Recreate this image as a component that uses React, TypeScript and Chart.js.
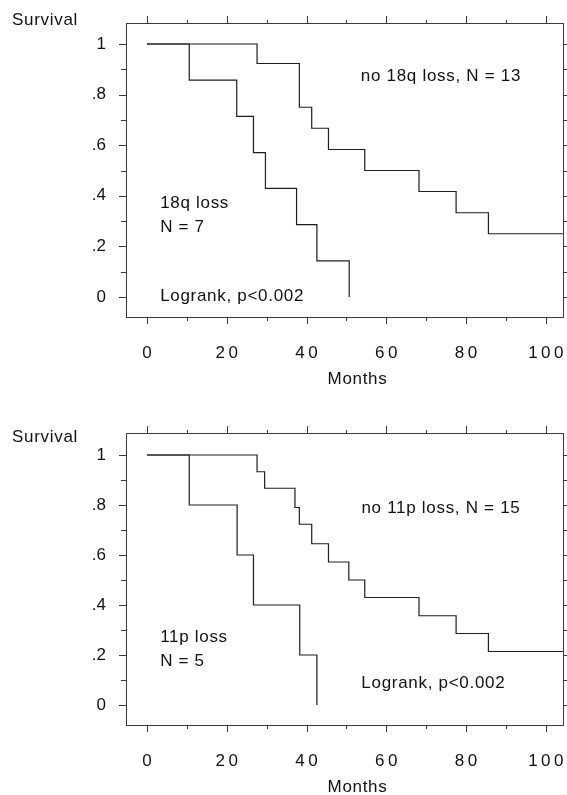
import React, { useEffect, useRef } from 'react';
import { Chart, registerables } from 'chart.js';
Chart.register(...registerables);

// ---- data ----
const monthTicks = [0, 20, 40, 60, 80, 100];
const monthMinorTicks = [0, 10, 20, 30, 40, 50, 60, 70, 80, 90, 100];
const survivalTicks = [0, 0.2, 0.4, 0.6, 0.8, 1];
const survivalMinorTicks = [0, 0.1, 0.2, 0.3, 0.4, 0.5, 0.6, 0.7, 0.8, 0.9, 1];

// Panel 1: 18q
const loss18qMonths = [0, 10.6, 22.5, 26.7, 29.7, 37.5, 42.6, 50.7];
const loss18qSurvival = [1, 0.857, 0.714, 0.571, 0.429, 0.286, 0.143, 0];
const noLoss18qMonths = [0, 27.6, 38.2, 41.3, 45.5, 54.6, 68.2, 77.5, 85.6, 104.3];
const noLoss18qSurvival = [1, 0.923, 0.75, 0.667, 0.583, 0.5, 0.417, 0.333, 0.25, 0.25];

// Panel 2: 11p
const loss11pMonths = [0, 10.6, 22.6, 26.7, 38.3, 42.6];
const loss11pSurvival = [1, 0.8, 0.6, 0.4, 0.2, 0];
const noLoss11pMonths = [0, 27.6, 29.5, 37.1, 38.2, 41.3, 45.5, 50.6, 54.6, 68.2, 77.5, 85.6, 104.3];
const noLoss11pSurvival = [1, 0.933, 0.867, 0.79, 0.723, 0.645, 0.572, 0.5, 0.43, 0.357, 0.286, 0.214, 0.214];

const topTexts = ['no 18q loss, N = 13', '18q loss', 'N = 7', 'Logrank, p<0.002'];
const bottomTexts = ['no 11p loss, N = 15', '11p loss', 'N = 5', 'Logrank, p<0.002'];
const yTitle = 'Survival';
const xTitle = 'Months';

const FONT = '"Liberation Sans", Arial, Helvetica, sans-serif';
const INK = '#111';

type Pt = { x: number; y: number };
const toPts = (xs: number[], ys: number[]): Pt[] => xs.map((x, i) => ({ x, y: ys[i] }));

type Anno = { text: string; x: number; y: number; align: CanvasTextAlign };

interface PanelProps {
  height: number;
  padTop: number;
  xAxisHeight: number;
  yMin: number;
  yMax: number;
  series: Pt[][];
  annos: Anno[];
  survivalY: number;
}

function Panel({ height, padTop, xAxisHeight, yMin, yMax, series, annos, survivalY }: PanelProps) {
  const ref = useRef<HTMLCanvasElement>(null);
  useEffect(() => {
    if (!ref.current) return;
    const framePlugin = {
      id: 'frame',
      beforeDraw(chart: any) {
        const xs = chart.scales.x;
        if (!xs._lsPatched) {
          const orig = xs.drawLabels.bind(xs);
          xs.drawLabels = (ca: any) => {
            const c = chart.ctx;
            c.save();
            c.letterSpacing = '3.5px';
            c.translate(1.75, 0);
            orig(ca);
            c.restore();
          };
          xs._lsPatched = true;
        }
      },
      afterDraw(chart: any) {
        const ctx: CanvasRenderingContext2D = chart.ctx;
        const { left, right, top, bottom } = chart.chartArea;
        const xs = chart.scales.x;
        const ys = chart.scales.y;
        ctx.save();
        ctx.strokeStyle = '#3a3a3a';
        ctx.lineWidth = 1;
        ctx.strokeRect(Math.round(left) + 0.5, Math.round(top) + 0.5, Math.round(right - left), Math.round(bottom - top));
        ctx.beginPath();
        monthMinorTicks.forEach((v) => {
          const px = Math.round(xs.getPixelForValue(v)) + 0.5;
          const major = v % 20 === 0;
          ctx.moveTo(px, bottom);
          ctx.lineTo(px, bottom + (major ? 7 : 4));
          ctx.moveTo(px, top);
          ctx.lineTo(px, top - (major ? 7 : 3));
        });
        survivalMinorTicks.forEach((v, i) => {
          const py = Math.round(ys.getPixelForValue(v)) + 0.5;
          const major = i % 2 === 0;
          ctx.moveTo(left, py);
          ctx.lineTo(left - (major ? 7 : 5), py);
          ctx.moveTo(right, py);
          ctx.lineTo(right + 4, py);
        });
        ctx.stroke();

        ctx.fillStyle = INK;
        ctx.font = `17px ${FONT}`;
        (ctx as any).letterSpacing = '0.7px';
        ctx.textBaseline = 'middle';
        annos.forEach((a) => {
          ctx.textAlign = a.align;
          ctx.fillText(a.text, xs.getPixelForValue(a.x), ys.getPixelForValue(a.y));
        });
        ctx.textAlign = 'left';
        ctx.fillText(yTitle, 12, survivalY);
        ctx.textAlign = 'center';
        ctx.fillText(xTitle, (left + right) / 2 + 13, bottom + 62);
        ctx.restore();
      },
    };

    const chart = new Chart(ref.current, {
      type: 'line',
      data: {
        datasets: series.map((pts) => ({
          data: pts,
          borderColor: '#1e1e1e',
          borderWidth: 1.2,
          pointRadius: 0,
          stepped: 'before' as const,
          fill: false,
          tension: 0,
        })),
      },
      options: {
        responsive: false,
        animation: false,
        events: [],
        layout: { padding: { top: padTop, right: 4, left: 0, bottom: 0 } },
        plugins: { legend: { display: false }, tooltip: { enabled: false }, title: { display: false } },
        scales: {
          x: {
            type: 'linear',
            min: -5.26,
            max: 104.3,
            afterBuildTicks: (axis: any) => {
              axis.ticks = monthTicks.map((v) => ({ value: v }));
            },
            afterFit: (s: any) => {
              s.height = xAxisHeight;
              s.paddingLeft = 0;
              s.paddingRight = 0;
            },
            grid: { display: false, drawTicks: false },
            border: { display: false },
            ticks: {
              padding: 26,
              color: INK,
              font: { family: FONT, size: 17 },
              maxRotation: 0,
              autoSkip: false,
              callback: (v: any) => String(v),
            },
          },
          y: {
            type: 'linear',
            min: yMin,
            max: yMax,
            afterBuildTicks: (axis: any) => {
              axis.ticks = survivalTicks.map((v) => ({ value: v }));
            },
            afterFit: (s: any) => {
              s.width = 126;
              s.paddingTop = 0;
              s.paddingBottom = 0;
            },
            grid: { display: false, drawTicks: false },
            border: { display: false },
            ticks: {
              padding: 20,
              color: INK,
              font: { family: FONT, size: 17 },
              autoSkip: false,
              callback: (v: any) => {
                const n = Number(v);
                if (n === 0) return '0';
                if (n === 1) return '1';
                return '.' + Math.round(n * 10);
              },
            },
          },
        },
      },
      plugins: [framePlugin],
    });
    return () => chart.destroy();
  }, []);
  return <canvas ref={ref} width={567} height={height} style={{ display: 'block', width: 567, height }} />;
}

export default function App() {
  const topAnnos: Anno[] = [
    { text: topTexts[0], x: 73.7, y: 0.871, align: 'center' },
    { text: topTexts[1], x: 3.3, y: 0.372, align: 'left' },
    { text: topTexts[2], x: 3.3, y: 0.277, align: 'left' },
    { text: topTexts[3], x: 3.3, y: 0.003, align: 'left' },
  ];
  const bottomAnnos: Anno[] = [
    { text: bottomTexts[0], x: 73.7, y: 0.788, align: 'center' },
    { text: bottomTexts[1], x: 3.3, y: 0.272, align: 'left' },
    { text: bottomTexts[2], x: 3.3, y: 0.173, align: 'left' },
    { text: bottomTexts[3], x: 71.8, y: 0.088, align: 'center' },
  ];
  return (
    <div style={{ position: 'absolute', left: 0, top: 0, width: 567, height: 795, background: '#fff' }}>
      <Panel
        height={395}
        padTop={23}
        xAxisHeight={78}
        yMin={-0.079}
        yMax={1.083}
        series={[toPts(loss18qMonths, loss18qSurvival), toPts(noLoss18qMonths, noLoss18qSurvival)]}
        annos={topAnnos}
        survivalY={20}
      />
      <Panel
        height={400}
        padTop={38}
        xAxisHeight={70}
        yMin={-0.08}
        yMax={1.088}
        series={[toPts(loss11pMonths, loss11pSurvival), toPts(noLoss11pMonths, noLoss11pSurvival)]}
        annos={bottomAnnos}
        survivalY={42}
      />
    </div>
  );
}
